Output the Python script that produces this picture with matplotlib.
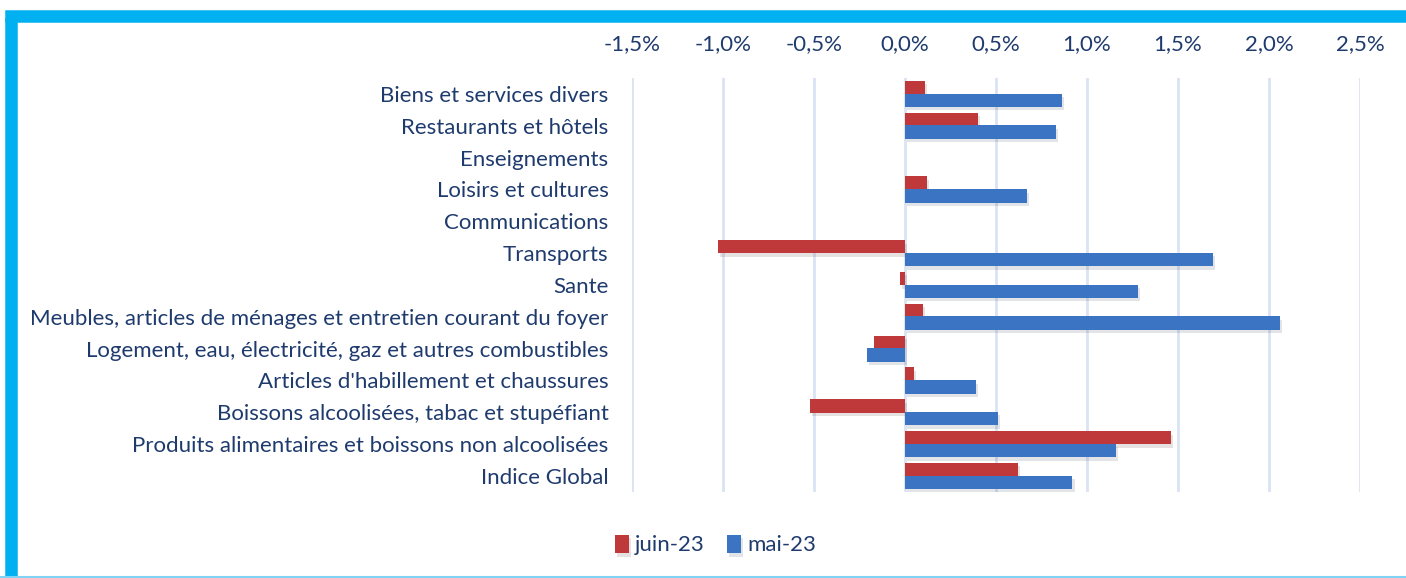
import matplotlib
matplotlib.use('Agg')
import matplotlib.pyplot as plt
import matplotlib.patheffects as pe
from matplotlib.lines import Line2D
from matplotlib.ticker import FuncFormatter
import numpy as np

categories = [
    'Indice Global',
    'Produits alimentaires et boissons non alcoolisées',
    'Boissons alcoolisées, tabac et stupéfiant',
    "Articles d'habillement et chaussures",
    'Logement, eau, électricité, gaz et autres combustibles',
    'Meubles, articles de ménages et entretien courant du foyer',
    'Sante',
    'Transports',
    'Communications',
    'Loisirs et cultures',
    'Enseignements',
    'Restaurants et hôtels',
    'Biens et services divers',
]
juin_23 = [0.62, 1.46, -0.52, 0.05, -0.17, 0.10, -0.03, -1.03, 0.0, 0.12, 0.0, 0.40, 0.11]
mai_23 = [0.92, 1.16, 0.51, 0.39, -0.21, 2.06, 1.28, 1.69, 0.0, 0.67, 0.0, 0.83, 0.86]
series_names = ['juin-23', 'mai-23']
x_ticks = [-1.5, -1.0, -0.5, 0.0, 0.5, 1.0, 1.5, 2.0, 2.5]

text_color = '#1F3B6E'
red = '#C0393A'
blue = '#3A74C2'

plt.rcParams['font.family'] = ['Lato', 'DejaVu Sans']

fig = plt.figure(figsize=(14.06, 5.78), dpi=100)
ax = fig.add_axes([0.4495, 0.149, 0.5178, 0.716])

y = np.arange(len(categories))
h = 0.42
shadow = [pe.SimplePatchShadow(offset=(1.5, -2.5), alpha=0.12), pe.Normal()]
ax.barh(y + 0.2, juin_23, height=h, color=red, label=series_names[0], path_effects=shadow, zorder=3)
ax.barh(y - 0.2, mai_23, height=h, color=blue, label=series_names[1], path_effects=shadow, zorder=3)

ax.set_xlim(-1.5, 2.5)
ax.set_ylim(-0.5, len(categories) - 0.5)
ax.set_xticks(x_ticks)
ax.xaxis.set_major_formatter(FuncFormatter(lambda v, p: ('%.1f%%' % v).replace('.', ',')))
ax.xaxis.tick_top()
ax.set_yticks(y)
ax.set_yticklabels(categories)
ax.tick_params(axis='x', length=0, pad=17, labelsize=16, labelcolor=text_color)
ax.tick_params(axis='y', length=0, pad=17, labelsize=16, labelcolor=text_color)
ax.grid(axis='x', color='#DAE3F3', linewidth=2, zorder=0)
ax.set_axisbelow(True)
for s in ax.spines.values():
    s.set_visible(False)

leg = fig.legend(loc='center', bbox_to_anchor=(0.509, 0.057), ncol=2, frameon=False,
                 fontsize=16, handlelength=0.6, handleheight=0.9, handletextpad=0.3, columnspacing=1.0)
for t in leg.get_texts():
    t.set_color(text_color)

# cyan frame on top and left, thin line at bottom
W, H = 1406, 578
fig.add_artist(Line2D([11 / W, 11 / W], [0, 1 - 24 / H], transform=fig.transFigure, color='#00B0F0', linewidth=9))
fig.add_artist(Line2D([11 / W, 1], [1 - 16 / H, 1 - 16 / H], transform=fig.transFigure, color='#00B0F0', linewidth=9))
fig.add_artist(Line2D([0, 1], [1 / H, 1 / H], transform=fig.transFigure, color='#7FD3F5', linewidth=1.5))

fig.savefig('out.png', dpi=100)
